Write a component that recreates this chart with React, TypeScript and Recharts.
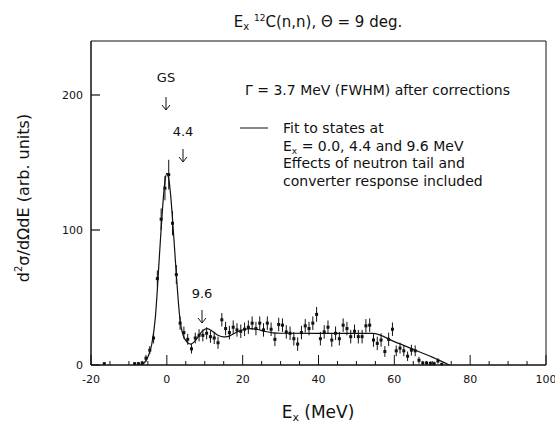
import { ComposedChart, Line, Scatter, ErrorBar, XAxis, YAxis, ReferenceArea } from "recharts";

// measured spectrum: bin centre (MeV), yield, error
const energies = [
  -16.5, -8.5, -7.5, -6.5, -5.5, -4.5, -3.5, -2.5, -1.5, -0.5, 0.5, 1.5, 2.5, 3.5, 4.5, 5.5, 6.5, 7.5, 8.5, 9.5,
  10.5, 11.5, 12.5, 13.5, 14.5, 15.5, 16.5, 17.5, 18.5, 19.5, 20.5, 21.5, 22.5, 23.5, 24.5, 25.5, 26.5, 27.5,
  28.5, 29.5, 30.5, 31.5, 32.5, 33.5, 34.5, 35.5, 36.5, 37.5, 38.5, 39.5, 40.5, 41.5, 42.5, 43.5, 44.5, 45.5,
  46.5, 47.5, 48.5, 49.5, 50.5, 51.5, 52.5, 53.5, 54.5, 55.5, 56.5, 57.5, 58.5, 59.5, 60.5, 61.5, 62.5, 63.5,
  64.5, 65.5, 66.5, 67.5, 68.5, 69.5, 70.5, 71.5, 72.5,
];
const yields = [
  1, 1, 1, 1.5, 5, 11, 20, 64, 108, 131, 141, 105, 67, 31, 24, 19, 12, 20, 22, 22,
  23.5, 21, 20, 16.5, 33.5, 27, 24, 28, 26, 25, 26.5, 28, 31, 27, 31, 26, 31, 26.5,
  19, 30, 29.5, 24.5, 23.5, 19.5, 15.5, 24, 29, 27, 31, 37.5, 19.5, 24.5, 28, 18.5, 23.5, 19.5,
  29.5, 27, 21, 25, 21, 21, 29, 29.5, 18.5, 16, 18.5, 10, 19, 26.5, 10.5, 12.5, 10.5, 6.5,
  11, 10.5, 3.5, 1.5, 1.5, 1.2, 1, 3, 0.5,
];
const errors = [
  1, 1, 1, 1.5, 2.5, 3, 4, 6, 8, 9, 11, 9, 7, 5, 4.5, 4, 3.5, 4, 4.5, 4.5,
  4.5, 4.5, 4.5, 4.5, 5, 5, 5, 5, 5, 5, 5, 5, 5, 5, 5, 5, 5, 5,
  5, 5, 5, 5, 5, 5, 5, 5, 5, 5, 5, 5.5, 5, 5, 5, 5, 5, 5,
  5, 5, 5, 5, 5, 5, 5, 5, 5, 5, 5, 4, 5, 5, 4, 4, 4, 3.5,
  4, 4, 2.5, 1.5, 1.5, 1.5, 1.5, 2, 1,
];

// fit curve
const fitE = [
  -7, -6, -5, -4, -3, -2.5, -2, -1.5, -1, -0.5, 0, 0.5, 1, 1.5, 2, 2.5, 3, 3.5, 4, 4.5, 5, 5.5, 6.3,
  7.5, 8.5, 9.5, 10.7, 12, 13.5, 15, 16, 17.5, 19, 20.5, 22.2, 24, 26, 28, 30, 40, 50, 54.3, 60, 65, 70, 74.5,
];
const fitV = [
  0, 1.5, 6, 15, 36, 56, 79, 101, 121, 136, 142, 138, 126, 108, 88, 67, 48, 33, 25, 20.5, 18, 16.5, 15.5,
  18, 22, 25.5, 27, 25, 22, 20.8, 21, 23, 25, 26.5, 27, 26.3, 24.8, 23.8, 23.5, 23.4, 23.4, 23.4, 17.3, 11.6, 5.8, 0,
];

const xTicks = [-20, -15, -10, -5, 0, 5, 10, 15, 20, 25, 30, 35, 40, 45, 50, 55, 60, 65, 70, 75, 80, 85, 90, 95, 100];
const yTicks = [0, 100, 200];

const points = energies.map((e, i) => ({ e, v: yields[i], err: errors[i] }));
const fit = fitE.map((e, i) => ({ e, fit: fitV[i] }));

const FONT = "'DejaVu Sans', 'Liberation Sans', sans-serif";
const INK = "#111";
const BOTTOM = 365;
const LEFT = 91;

const XTick = (props: any) => {
  const { x, payload } = props;
  const major = payload.value % 20 === 0;
  return (
    <g>
      <line x1={x} x2={x} y1={BOTTOM} y2={BOTTOM - (major ? 10 : 4)} stroke={INK} strokeWidth={1} />
      {major && (
        <text x={x} y={BOTTOM + 18} textAnchor="middle" fontSize={11} fontFamily={FONT} fill={INK}>
          {payload.value}
        </text>
      )}
    </g>
  );
};

const YTick = (props: any) => {
  const { y, payload } = props;
  return (
    <g>
      <line x1={LEFT} x2={LEFT + 9} y1={y} y2={y} stroke={INK} strokeWidth={1.2} />
      <text x={LEFT - 8} y={y + 4} textAnchor="end" fontSize={11} fontFamily={FONT} fill={INK}>
        {payload.value}
      </text>
    </g>
  );
};

const Marker = (props: any) => {
  const { cx, cy } = props;
  if (cx == null || cy == null) return null;
  return <rect x={cx - 1.5} y={cy - 1.5} width={3} height={3} fill={INK} />;
};

const Arrow = ({ x, y1, y2 }: { x: number; y1: number; y2: number }) => (
  <path d={`M${x},${y1} L${x},${y2} M${x - 4},${y2 - 5} L${x},${y2} L${x + 4},${y2 - 5}`} stroke={INK} strokeWidth={1} fill="none" />
);

export default function App() {
  return (
    <div style={{ position: "absolute", left: 0, top: 0, width: 555, height: 427, background: "#fff" }}>
      <ComposedChart width={555} height={427} margin={{ top: 41, right: 9, bottom: 32, left: 31 }}>
        <XAxis
          type="number"
          dataKey="e"
          domain={[-20, 100]}
          ticks={xTicks}
          interval={0}
          tick={<XTick />}
          tickLine={false}
          axisLine={{ stroke: INK }}
          height={30}
          allowDataOverflow
        />
        <YAxis
          type="number"
          domain={[0, 240]}
          ticks={yTicks}
          interval={0}
          tick={<YTick />}
          tickLine={false}
          axisLine={{ stroke: INK }}
          width={60}
          allowDataOverflow
        />
        <ReferenceArea x1={-20} x2={100} y1={0} y2={240} fill="none" stroke={INK} strokeWidth={1} />
        <Line data={fit} dataKey="fit" type="monotone" stroke={INK} strokeWidth={1.2} dot={false} isAnimationActive={false} />
        <Scatter data={points} dataKey="v" shape={<Marker />} isAnimationActive={false}>
          <ErrorBar dataKey="err" direction="y" width={0} stroke={INK} strokeWidth={1} />
        </Scatter>
      </ComposedChart>
      <svg width={555} height={427} style={{ position: "absolute", left: 0, top: 0, pointerEvents: "none" }}>
        <g fontFamily={FONT} fill={INK}>
          <text x={318} y={27} textAnchor="middle" fontSize={15}>
            E<tspan fontSize={10} dy={3}>x</tspan>
            <tspan dy={-3}> </tspan>
            <tspan fontSize={9} dy={-6}>12</tspan>
            <tspan dy={6}>C(n,n), Θ = 9 deg.</tspan>
          </text>
          <text x={318} y={418} textAnchor="middle" fontSize={17}>
            E<tspan fontSize={11} dy={3}>x</tspan>
            <tspan dy={-3}> (MeV)</tspan>
          </text>
          <text transform="translate(29,198) rotate(-90)" textAnchor="middle" fontSize={16}>
            d<tspan fontSize={10} dy={-7}>2</tspan>
            <tspan dy={7}>σ/dΩdE (arb. units)</tspan>
          </text>
          <text x={166} y={82} textAnchor="middle" fontSize={13}>GS</text>
          <text x={183} y={136} textAnchor="middle" fontSize={13}>4.4</text>
          <text x={202} y={298} textAnchor="middle" fontSize={13}>9.6</text>
          <text x={245} y={95} fontSize={14}>Γ = 3.7 MeV (FWHM) after corrections</text>
          <text x={283} y={133} fontSize={14}>Fit to states at</text>
          <text x={283} y={150.5} fontSize={14}>
            E<tspan fontSize={9} dy={3}>x</tspan>
            <tspan dy={-3}> = 0.0, 4.4 and 9.6 MeV</tspan>
          </text>
          <text x={283} y={168} fontSize={14}>Effects of neutron tail and</text>
          <text x={283} y={185.5} fontSize={14}>converter response included</text>
        </g>
        <line x1={240} x2={268} y1={128} y2={128} stroke={INK} strokeWidth={1} />
        <Arrow x={166} y1={97} y2={110} />
        <Arrow x={183} y1={149} y2={162} />
        <Arrow x={202} y1={310} y2={323} />
      </svg>
    </div>
  );
}
